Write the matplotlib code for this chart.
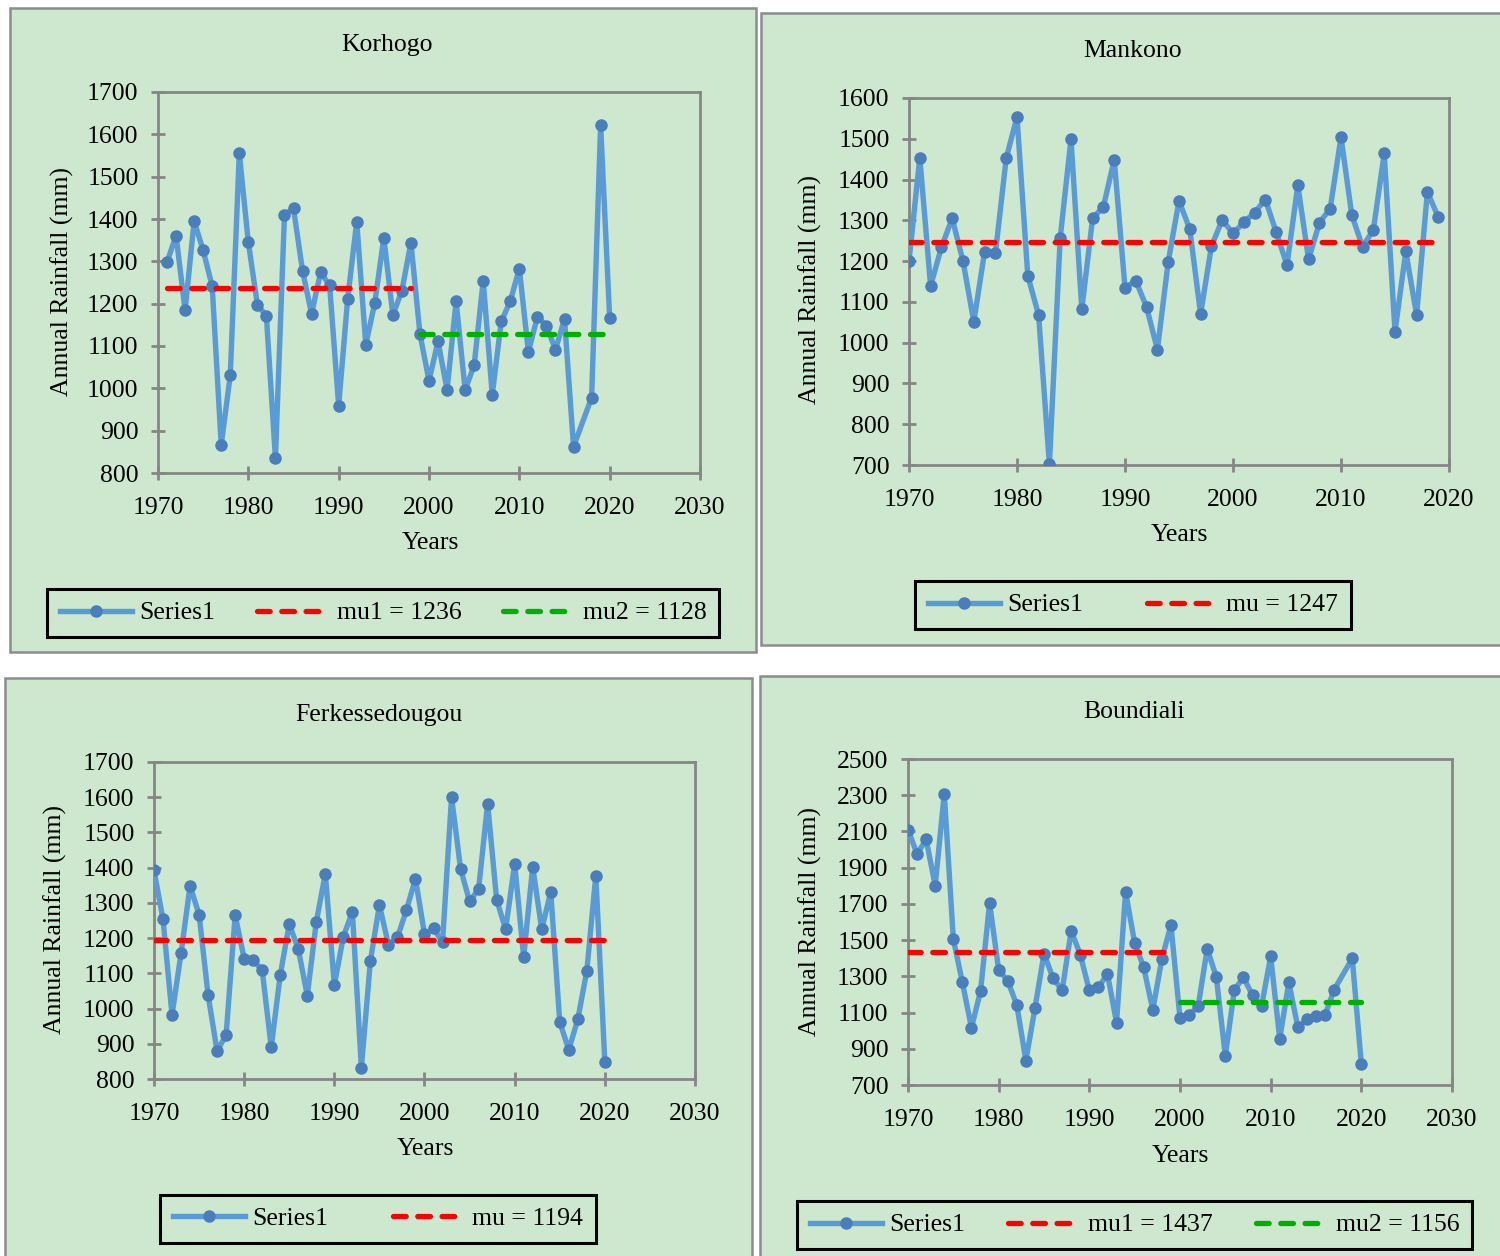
import numpy as np
import matplotlib.pyplot as plt
from matplotlib.patches import Rectangle

plt.rcParams['font.family'] = ['Liberation Serif', 'DejaVu Serif']

# annual rainfall (mm); missing years are left out
years_korhogo = list(range(1971, 2017)) + [2018, 2019, 2020]
rain_korhogo = [1298, 1361, 1184, 1395, 1326, 1241, 866, 1031, 1555,
                1345, 1198, 1170, 835, 1410, 1425, 1278, 1176, 1274, 1243,
                959, 1212, 1394, 1103, 1202, 1356, 1173, 1231, 1344, 1128,
                1018, 1111, 996, 1206, 996, 1055, 1254, 985, 1158, 1206,
                1283, 1086, 1169, 1148, 1091, 1164, 862,
                978, 1621, 1166]

years_mankono = list(range(1970, 2020))
rain_mankono = [1200, 1454, 1139, 1234, 1305, 1200, 1051, 1223, 1219, 1452,
                1554, 1164, 1068, 702, 1257, 1499, 1082, 1305, 1333, 1449,
                1135, 1152, 1087, 983, 1198, 1348, 1278, 1070, 1236, 1301,
                1268, 1295, 1319, 1351, 1271, 1190, 1386, 1204, 1294, 1329,
                1504, 1313, 1235, 1277, 1464, 1027, 1224, 1068, 1370, 1308]

years_ferke = list(range(1970, 2021))
rain_ferke = [1392, 1253, 982, 1157, 1348, 1267, 1038, 879, 926, 1265,
              1142, 1137, 1109, 890, 1095, 1240, 1169, 1037, 1246, 1383,
              1067, 1204, 1275, 832, 1136, 1294, 1181, 1202, 1280, 1369,
              1211, 1228, 1188, 1600, 1397, 1304, 1339, 1582, 1309, 1225,
              1411, 1146, 1403, 1225, 1331, 962, 883, 969, 1107, 1377,
              848]

years_boundiali = list(range(1970, 2018)) + [2019, 2020]
rain_boundiali = [2110, 1975, 2056, 1801, 2309, 1506, 1266, 1016, 1218, 1704,
                  1335, 1276, 1141, 835, 1123, 1425, 1290, 1222, 1551, 1420,
                  1222, 1239, 1313, 1045, 1766, 1484, 1349, 1115, 1396, 1584,
                  1069, 1087, 1134, 1451, 1298, 861, 1226, 1294, 1196, 1137,
                  1410, 955, 1266, 1019, 1063, 1082, 1087, 1226,
                  1399, 816]

# mean segments: (start year, end year, mean, label, colour)
means_korhogo = [(1971, 1998, 1236, 'mu1 = 1236', 'red'),
                 (1999, 2020, 1128, 'mu2 = 1128', 'green')]
means_mankono = [(1970, 2019, 1247, 'mu = 1247', 'red')]
means_ferke = [(1970, 2020, 1194, 'mu = 1194', 'red')]
means_boundiali = [(1970, 1998.5, 1437, 'mu1 = 1437', 'red'),
                   (2000, 2020, 1156, 'mu2 = 1156', 'green')]

W, H = 1500, 1256
BG = '#cde8cf'
GRAY = '#868686'
FS = 18.5
COLORS = {'red': '#ff0000', 'green': '#00b000'}

fig = plt.figure(figsize=(W / 100, H / 100), dpi=100)


def fx(x):
    return x / W


def fy(y):
    return 1 - y / H


def rect(l, t, r, b):
    return [fx(l), fy(b), fx(r) - fx(l), fy(t) - fy(b)]


def panel(frame, axbox, title, title_xy, years, rain, means, xmax, ylim, ystep,
          xlab_xy, ylab_xy, leg_box):
    l, t, r, b = frame
    fig.patches.append(Rectangle((fx(l), fy(b)), fx(r) - fx(l), fy(t) - fy(b),
                                 transform=fig.transFigure, facecolor=BG,
                                 edgecolor='#8c8c8c', lw=1.8, zorder=-5))
    ax = fig.add_axes(rect(*axbox))
    ax.set_facecolor('none')
    ax.plot(years, rain, color='#5b9bd5', lw=3.9, marker='o', ms=8,
            mfc='#4a7ebb', mec='#4a7ebb', label='Series1', zorder=3,
            solid_joinstyle='round')
    for x0, x1, mu, lab, c in means:
        ax.plot([x0, x1], [mu, mu], color=COLORS[c], lw=3.8,
                ls=(0, (2.4, 2.2)), dash_capstyle='round', label=lab, zorder=4)
    ax.set_xlim(1970, xmax)
    ax.set_xticks(np.arange(1970, xmax + 1, 10))
    ax.set_ylim(*ylim)
    ax.set_yticks(np.arange(ylim[0], ylim[1] + 1, ystep))
    for s in ax.spines.values():
        s.set_color(GRAY)
        s.set_linewidth(2)
    ax.tick_params(direction='inout', length=10, width=2, color=GRAY,
                   labelsize=FS)
    ax.tick_params(axis='x', pad=12)
    ax.tick_params(axis='y', pad=9)
    fig.text(fx(title_xy[0]), fy(title_xy[1]), title, ha='center', va='center',
             fontsize=FS)
    fig.text(fx(xlab_xy[0]), fy(xlab_xy[1]), 'Years', ha='center', va='center',
             fontsize=FS)
    fig.text(fx(ylab_xy[0]), fy(ylab_xy[1]), 'Annual Rainfall (mm)',
             ha='center', va='center', rotation=90, fontsize=FS)
    bl, bt, br, bb = leg_box
    leg = ax.legend(loc='center', bbox_to_anchor=rect(bl - 13, bt, br + 13, bb),
                    bbox_transform=fig.transFigure, mode='expand',
                    ncol=len(means) + 1, fontsize=FS, frameon=True,
                    fancybox=False, edgecolor='black', facecolor=BG,
                    framealpha=1, handlelength=2.8, handletextpad=0.3,
                    borderpad=0.5, columnspacing=1.0)
    leg.get_frame().set_linewidth(2.2)
    return ax


panel((10, 8, 756, 652), (158, 92, 700, 473), 'Korhogo', (387, 45),
      years_korhogo, rain_korhogo, means_korhogo, 2030, (800, 1700), 100,
      (430, 543), (62, 282), (47, 590, 719, 636))
panel((761, 13, 1510, 645), (909, 98, 1449, 465), 'Mankono', (1133, 51),
      years_mankono, rain_mankono, means_mankono, 2020, (700, 1600), 100,
      (1179, 535), (810, 290), (915, 582, 1351, 628))
panel((5, 678, 752, 1266), (154, 762, 695, 1079), 'Ferkessedougou', (379, 715),
      years_ferke, rain_ferke, means_ferke, 2030, (800, 1700), 100,
      (425, 1149), (55, 920), (160, 1196, 596, 1242))
panel((760, 676, 1510, 1266), (908, 759, 1452, 1085), 'Boundiali', (1134, 712),
      years_boundiali, rain_boundiali, means_boundiali, 2030, (700, 2500), 200,
      (1180, 1156), (810, 922), (797, 1201, 1472, 1249))

fig.savefig('out.png', dpi=100)
